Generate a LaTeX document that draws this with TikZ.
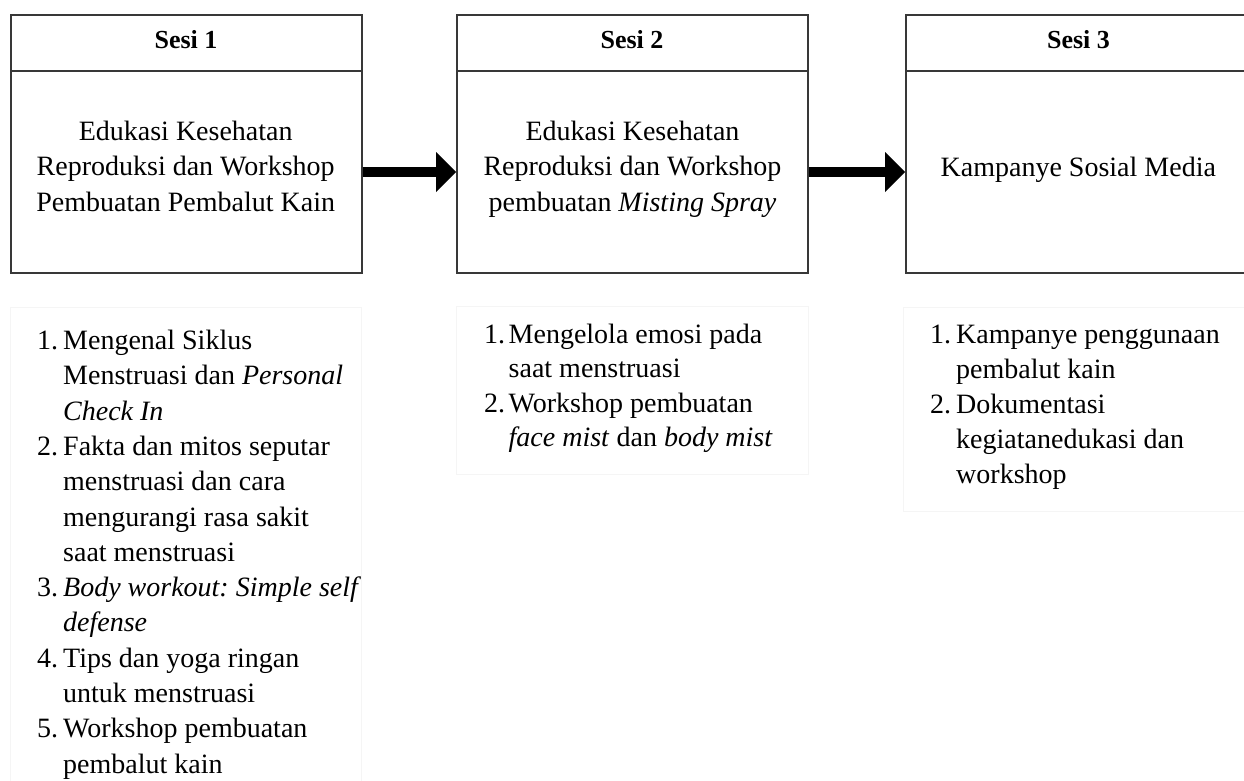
\documentclass[tikz,border=0pt]{standalone}
\usepackage{fontspec}
\setmainfont{Liberation Serif}
\usetikzlibrary{arrows.meta}
\frenchspacing
\begin{document}
\begin{tikzpicture}[x=1pt,y=-1pt,
  box/.style={draw=black!78,line width=1.6pt,minimum width=351pt,inner sep=0pt},
  headbox/.style={box,minimum height=56pt},
  bodybox/.style={box,minimum height=202pt},
  headtxt/.style={anchor=base,inner sep=0pt,font=\fontsize{26}{30}\selectfont\bfseries},
  bodytxt/.style={anchor=base,inner sep=0pt},
  listtxt/.style={anchor=base west,inner sep=0pt},
  listframe/.style={draw=black!4,line width=1pt},
  flow/.style={line width=10pt,-{Triangle[length=20pt,width=40pt,line width=0pt]}}]
\useasboundingbox (0,0) rectangle (1244,781);
\clip (0,0) rectangle (1244,781);

% session boxes
\node[headbox] (h1) at (186.2,43) {};
\node[bodybox] (b1) at (186.2,172) {};
\node[headbox] (h2) at (632.5,43) {};
\node[bodybox] (b2) at (632.5,172) {};
\node[headbox] (h3) at (1081.4,43) {};
\node[bodybox] (b3) at (1081.4,172) {};

\node[headtxt] (t1) at (186,48.5) {Sesi 1};
\node[headtxt] (t2) at (632,48.8) {Sesi 2};
\node[headtxt] (t3) at (1078.5,48.8) {Sesi 3};

\node[bodytxt] (c1) at (185.7,140) {\fontsize{28}{35.8}\selectfont
  \begin{tabular}[t]{@{}c@{}}Edukasi Kesehatan\\ Reproduksi dan Workshop\\ Pembuatan Pembalut Kain\end{tabular}};
\node[bodytxt] (c2) at (632.5,140) {\fontsize{28}{35.8}\selectfont
  \begin{tabular}[t]{@{}c@{}}Edukasi Kesehatan\\ Reproduksi dan Workshop\\ pembuatan \textit{Misting Spray}\end{tabular}};
\node[bodytxt] (c3) at (1078.3,176.5) {\fontsize{28}{35.8}\selectfont Kampanye Sosial Media};

% arrows
\draw[flow] (b1.east) -- (b2.west);
\draw[flow] (b2.east) -- (b3.west);

% list frames
\draw[listframe] (10.5,307) rectangle (361,800);
\draw[listframe] (456.7,306.7) rectangle (808,474);
\draw[listframe] (903,307) rectangle (1260,511);

% lists
\node[listtxt] (l1) at (37,349.5) {\fontsize{28}{35.3}\selectfont
  \begin{tabular}[t]{@{}p{26pt}@{}l@{}}
  1. & Mengenal Siklus\\
     & Menstruasi dan \textit{Personal}\\
     & \textit{Check In}\\
  2. & Fakta dan mitos seputar\\
     & menstruasi dan cara\\
     & mengurangi rasa sakit\\
     & saat menstruasi\\
  3. & \textit{Body workout: Simple self}\\
     & \textit{defense}\\
  4. & Tips dan yoga ringan\\
     & untuk menstruasi\\
  5. & Workshop pembuatan\\
     & pembalut kain
  \end{tabular}};
\node[listtxt] (l2) at (484,343.3) {\fontsize{28}{34.5}\selectfont
  \begin{tabular}[t]{@{}p{24.5pt}@{}l@{}}
  1. & Mengelola emosi pada\\
     & saat menstruasi\\
  2. & Workshop pembuatan\\
     & \textit{face mist} dan \textit{body mist}
  \end{tabular}};
\node[listtxt] (l3) at (930,343.3) {\fontsize{28}{35}\selectfont
  \begin{tabular}[t]{@{}p{26pt}@{}l@{}}
  1. & Kampanye penggunaan\\
     & pembalut kain\\
  2. & Dokumentasi\\
     & kegiatanedukasi dan\\
     & workshop
  \end{tabular}};
\end{tikzpicture}
\end{document}
